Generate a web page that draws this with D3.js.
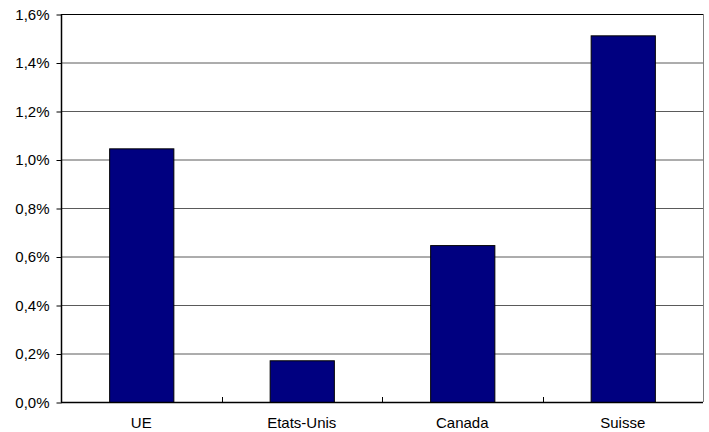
<!DOCTYPE html>
<html><head><meta charset="utf-8">
<script src="https://cdn.jsdelivr.net/npm/d3@7"></script>
<style>body{margin:0;background:#fff}svg{display:block}text{font-family:"Liberation Sans",Arial,sans-serif}</style>
</head><body><svg id="c" width="709" height="432"></svg>
<script>
const categories = ["UE", "Etats-Unis", "Canada", "Suisse"];
const values = [1.046, 0.172, 0.647, 1.512];
const yTicks = [0, 0.2, 0.4, 0.6, 0.8, 1.0, 1.2, 1.4, 1.6];

const svg = d3.select("#c");
const L = 61, R = 703, T = 14, B = 402;
const x = d3.scaleBand().domain(categories).range([L, R]).paddingInner(0.6).paddingOuter(0.3);
const y = d3.scaleLinear().domain([0, 1.6]).range([B, T]);
const fmt = v => v.toFixed(1).replace(".", ",") + "%";

// grid
svg.append("g").selectAll("line").data(yTicks.filter(d => d > 0)).join("line")
  .attr("x1", L).attr("x2", R).attr("y1", d => y(d) + 0.5).attr("y2", d => y(d) + 0.5)
  .attr("stroke", d => d === 1.6 ? "#000" : "#5a5a5a").attr("stroke-width", 1);
// right border
svg.append("line").attr("x1", R + 0.5).attr("x2", R + 0.5).attr("y1", T).attr("y2", B)
  .attr("stroke", "#808080").attr("stroke-width", 1);

// bars
svg.append("g").selectAll("rect").data(values).join("rect")
  .attr("x", (d, i) => x(categories[i]) + 0.5)
  .attr("y", d => y(d) + 0.5)
  .attr("width", x.bandwidth())
  .attr("height", d => B - y(d))
  .attr("fill", "#000080").attr("stroke", "#000").attr("stroke-width", 1);

// y axis
const yAxis = d3.axisLeft(y).tickValues(yTicks).tickFormat(fmt).tickSize(5).tickPadding(7);
const gy = svg.append("g").attr("transform", `translate(${L + 0.5},0.5)`).call(yAxis);
gy.select(".domain").attr("d", `M0,${T - 0.5}V${B}`).attr("stroke", "#000").attr("stroke-width", 1.5);
gy.selectAll("text").attr("font-size", 15).attr("fill", "#000").attr("font-family", "Liberation Sans, Arial, sans-serif");
gy.selectAll(".tick line").attr("stroke", "#000");

// x axis
const step = (R - L) / categories.length;
const gx = svg.append("g");
gx.append("line").attr("x1", L).attr("x2", R).attr("y1", B + 0.5).attr("y2", B + 0.5)
  .attr("stroke", "#000").attr("stroke-width", 1.5);
gx.selectAll("line.t").data(d3.range(1, categories.length)).join("line").attr("class", "t")
  .attr("x1", i => Math.round(L + i * step) + 0.5).attr("x2", i => Math.round(L + i * step) + 0.5)
  .attr("y1", B - 5).attr("y2", B).attr("stroke", "#000");
gx.selectAll("text").data(categories).join("text")
  .attr("x", d => x(d) + x.bandwidth() / 2).attr("y", 428)
  .attr("text-anchor", "middle").attr("font-size", 15).attr("fill", "#000").text(d => d);
</script></body></html>
